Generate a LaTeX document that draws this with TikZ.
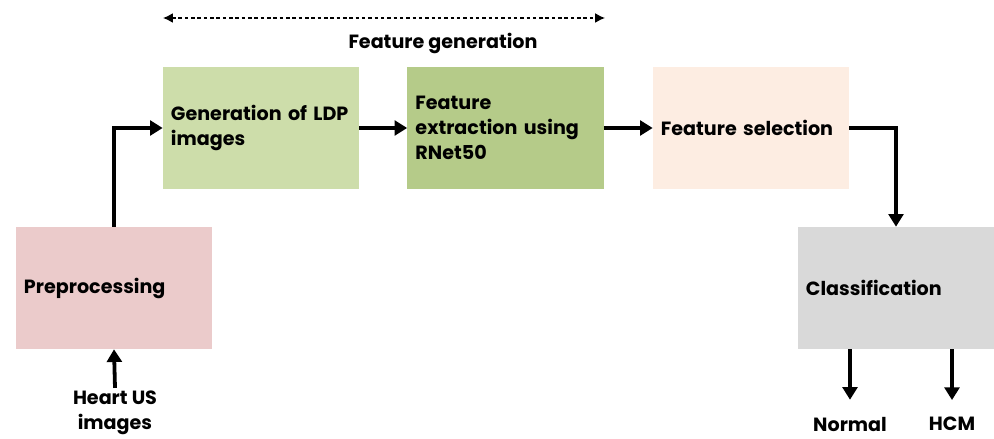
\documentclass[tikz,border=0pt]{standalone}
\usepackage{fontspec}
\setmainfont{Poppins}
\usetikzlibrary{arrows.meta}

\definecolor{ldpfill}{RGB}{205,221,170}
\definecolor{rnetfill}{RGB}{181,203,137}
\definecolor{selfill}{RGB}{253,237,226}
\definecolor{prefill}{RGB}{235,203,203}
\definecolor{clsfill}{RGB}{217,217,217}

\begin{document}
\begin{tikzpicture}[x=0.025cm, y=-0.025cm,
  >={Triangle[length=9pt,width=10.5pt]},
  font=\fontsize{13.6}{17.8}\selectfont\bfseries,
  stage/.style={minimum width=4.9cm, minimum height=3.05cm, text width=4.5cm,
    inner xsep=0.2cm, align=left},
  flow/.style={->, line width=2.7pt},
  outlbl/.style={align=center, inner sep=2pt}]
\useasboundingbox (0,0) rectangle (994,439);
% processing stages
\node[stage, fill=ldpfill]  (ldp)  at (261,128) {Generation of LDP\\images};
\node[stage, fill=rnetfill] (rnet) at (505.5,128) {Feature\\extraction using\\RNet50};
\node[stage, fill=selfill]  (sel)  at (751,128) {Feature selection};
\node[stage, fill=prefill]  (pre)  at (114,288) {Preprocessing};
\node[stage, fill=clsfill]  (cls)  at (896,288) {Classification};
% input and outputs
\node[outlbl] (heart)  at (115,413) {Heart US\\images};
\node[outlbl] (normal) at (850,424) {Normal};
\node[outlbl] (hcm)    at (952,424) {HCM};
% feature generation span
\coordinate (genL) at (163,18);
\coordinate (genR) at (605,18);
\draw[{Latex[length=7pt,width=7pt]}-{Latex[length=7pt,width=7pt]}, line width=1pt, dash pattern=on 2.5pt off 2pt] (genL) -- (genR);
\node (gen) at (443,43) {Feature generation};
% connectors
\draw[flow] (heart.north) -- (pre.south);
\draw[flow] (pre.north) |- (ldp.west);
\draw[flow] (ldp) -- (rnet);
\draw[flow] (rnet) -- (sel);
\draw[flow] (sel.east) -| (cls.north);
\draw[flow, shorten >=0.35cm] (normal |- cls.south) -- (normal.north);
\draw[flow, shorten >=0.35cm] (hcm |- cls.south) -- (hcm.north);
\end{tikzpicture}
\end{document}
